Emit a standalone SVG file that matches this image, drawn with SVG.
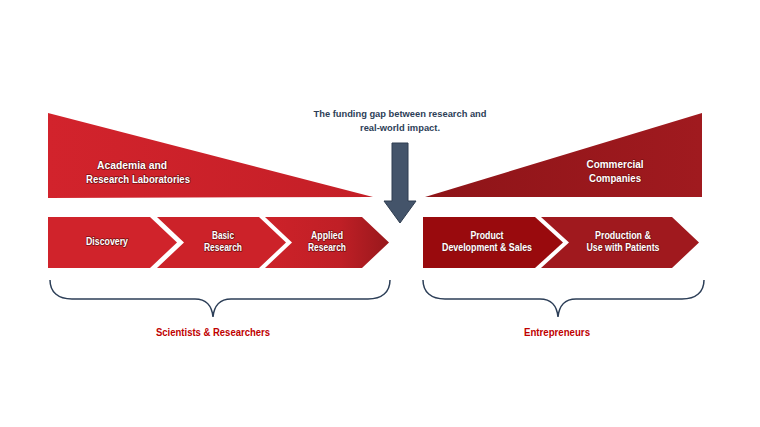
<svg xmlns="http://www.w3.org/2000/svg" width="760" height="427" viewBox="0 0 760 427">
<defs>
<linearGradient id="gL" x1="0" y1="0" x2="1" y2="0"><stop offset="0" stop-color="#d2232c"/><stop offset="1" stop-color="#c41f27"/></linearGradient>
<linearGradient id="gR" x1="0" y1="0" x2="1" y2="0"><stop offset="0" stop-color="#8e1418"/><stop offset="1" stop-color="#a01a1f"/></linearGradient>
<linearGradient id="gC3" x1="0" y1="0" x2="1" y2="0"><stop offset="0" stop-color="#cd2229"/><stop offset="0.6" stop-color="#c01f26"/><stop offset="1" stop-color="#98181c"/></linearGradient>
</defs>
<style>
.w{font-family:"Liberation Sans",Arial,sans-serif;font-weight:bold;font-size:10px;fill:#fff;text-anchor:middle;stroke:#7a0f12;stroke-width:1.6px;paint-order:stroke;stroke-linejoin:round}
.w2{font-size:11px}
.n{font-family:"Liberation Sans",Arial,sans-serif;font-weight:bold;font-size:9.5px;fill:#2c3e57;text-anchor:middle}
.r{font-family:"Liberation Sans",Arial,sans-serif;font-weight:bold;font-size:10px;fill:#c00000;text-anchor:middle}
.brace{fill:none;stroke:#2c3e57;stroke-width:1.5}
</style>
<rect width="760" height="427" fill="#fff"/>
<g id="academia">
<polygon points="48,113 48,198 373,197" fill="url(#gL)"/>
<text class="w w2" x="132" y="169" textLength="70" lengthAdjust="spacingAndGlyphs">Academia and</text>
<text class="w w2" x="138" y="183" textLength="104" lengthAdjust="spacingAndGlyphs">Research Laboratories</text>
</g>
<g id="commercial">
<polygon points="425,197 702,113 702,197" fill="url(#gR)"/>
<text class="w w2" x="615" y="168" textLength="57" lengthAdjust="spacingAndGlyphs">Commercial</text>
<text class="w w2" x="615" y="182" textLength="52" lengthAdjust="spacingAndGlyphs">Companies</text>
</g>
<g id="discovery">
<polygon points="48,217 150,217 177,242.5 150,268 48,268" fill="#d0232b"/>
<text class="w" x="107" y="245" textLength="42" lengthAdjust="spacingAndGlyphs">Discovery</text>
</g>
<g id="basic">
<polygon points="157,217 259,217 286,242.5 259,268 157,268 184,242.5" fill="#cc2229"/>
<text class="w" x="223" y="239" textLength="22" lengthAdjust="spacingAndGlyphs">Basic</text>
<text class="w" x="223" y="251" textLength="38" lengthAdjust="spacingAndGlyphs">Research</text>
</g>
<g id="applied">
<polygon points="265,217 362,217 389,242.5 362,268 265,268 292,242.5" fill="url(#gC3)"/>
<text class="w" x="327" y="239" textLength="32" lengthAdjust="spacingAndGlyphs">Applied</text>
<text class="w" x="327" y="251" textLength="38" lengthAdjust="spacingAndGlyphs">Research</text>
</g>
<g id="product">
<polygon points="423,217 535,217 563,242.5 535,268 423,268" fill="#990a0d"/>
<text class="w" x="487" y="239" textLength="33" lengthAdjust="spacingAndGlyphs">Product</text>
<text class="w" x="487" y="251" textLength="90" lengthAdjust="spacingAndGlyphs">Development &amp; Sales</text>
</g>
<g id="production">
<polygon points="541,217 672,217 699,242.5 672,268 541,268 569,242.5" fill="#a0191e"/>
<text class="w" x="623" y="239" textLength="56" lengthAdjust="spacingAndGlyphs">Production &amp;</text>
<text class="w" x="623" y="251" textLength="73" lengthAdjust="spacingAndGlyphs">Use with Patients</text>
</g>
<g id="gap">
<text class="n" x="400" y="117" textLength="173" lengthAdjust="spacingAndGlyphs">The funding gap between research and</text>
<text class="n" x="400" y="131" textLength="80" lengthAdjust="spacingAndGlyphs">real-world impact.</text>
<polygon points="392,143 408,143 408,201 416,201 400,223 384,201 392,201" fill="#44546a" stroke="#2f3d50" stroke-width="1"/>
</g>
<g id="connectors">
<path class="brace" d="M50,280 C50,292 58,299 72,299 L195,299 C206,299 212,306 213,317 C214,306 220,299 231,299 L368,299 C382,299 390,292 390,280"/>
<path class="brace" d="M423,280 C423,292 431,299 445,299 L540,299 C551,299 557,306 558,317 C559,306 565,299 576,299 L682,299 C696,299 704,292 704,280"/>
</g>
<g id="scientists">
<text class="r" x="213" y="336" textLength="114" lengthAdjust="spacingAndGlyphs">Scientists &amp; Researchers</text>
</g>
<g id="entrepreneurs">
<text class="r" x="557" y="336" textLength="66" lengthAdjust="spacingAndGlyphs">Entrepreneurs</text>
</g>
</svg>
